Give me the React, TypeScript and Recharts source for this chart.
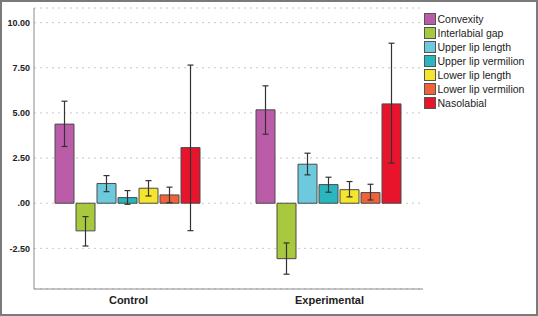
import React from 'react';
import { BarChart, Bar, XAxis, YAxis, CartesianGrid, ErrorBar, Legend } from 'recharts';

const categories = ['Control', 'Experimental'];
const seriesNames = ['Convexity', 'Interlabial gap', 'Upper lip length', 'Upper lip vermilion', 'Lower lip length', 'Lower lip vermilion', 'Nasolabial'];
const seriesColors = ['#BB5CA8', '#A8C83E', '#6CCADC', '#2AB6BE', '#F5E52C', '#F0633A', '#E8142C'];

// mean values [Control, Experimental]
const convexity = [4.38, 5.17];
const interlabialGap = [-1.53, -3.07];
const upperLipLength = [1.09, 2.16];
const upperLipVermilion = [0.31, 1.03];
const lowerLipLength = [0.83, 0.75];
const lowerLipVermilion = [0.46, 0.59];
const nasolabial = [3.08, 5.5];

// error bar lower / upper bounds [Control, Experimental]
const convexityLow = [3.14, 3.82];
const convexityHigh = [5.65, 6.5];
const interlabialLow = [-2.37, -3.93];
const interlabialHigh = [-0.74, -2.2];
const upperLipLengthLow = [0.64, 1.57];
const upperLipLengthHigh = [1.53, 2.77];
const upperLipVermilionLow = [-0.06, 0.61];
const upperLipVermilionHigh = [0.7, 1.44];
const lowerLipLengthLow = [0.4, 0.35];
const lowerLipLengthHigh = [1.25, 1.2];
const lowerLipVermilionLow = [0.03, 0.18];
const lowerLipVermilionHigh = [0.89, 1.05];
const nasolabialLow = [-1.52, 2.22];
const nasolabialHigh = [7.65, 8.86];

const yTicks = [-2.5, 0, 2.5, 5, 7.5, 10];

const seriesValues = [convexity, interlabialGap, upperLipLength, upperLipVermilion, lowerLipLength, lowerLipVermilion, nasolabial];
const seriesLow = [convexityLow, interlabialLow, upperLipLengthLow, upperLipVermilionLow, lowerLipLengthLow, lowerLipVermilionLow, nasolabialLow];
const seriesHigh = [convexityHigh, interlabialHigh, upperLipLengthHigh, upperLipVermilionHigh, lowerLipLengthHigh, lowerLipVermilionHigh, nasolabialHigh];

const data = categories.map((c, i) => {
  const row: any = { name: c };
  seriesValues.forEach((vals, s) => {
    row['s' + s] = vals[i];
    row['e' + s] = [vals[i] - seriesLow[s][i], seriesHigh[s][i] - vals[i]];
  });
  return row;
});

const font = '"Liberation Sans", Arial, sans-serif';

const fmt = (v: number) => {
  const s = v.toFixed(2);
  return s.replace(/^0\./, '.').replace(/^-0\./, '-.');
};

const LegendContent = () => (
  <div style={{ fontFamily: font, fontSize: 10.5, color: '#222' }}>
    {seriesNames.map((n, i) => (
      <div key={n} style={{ display: 'flex', alignItems: 'center', height: 14.05 }}>
        <div style={{ width: 10, height: 10, background: seriesColors[i], border: '1px solid #555', marginRight: 1.5, boxSizing: 'content-box' }} />
        <span style={{ whiteSpace: 'nowrap' }}>{n}</span>
      </div>
    ))}
  </div>
);

export default function App() {
  return (
    <div style={{ position: 'absolute', left: 0, top: 0, width: 538, height: 316, background: '#fff' }}>
      <div style={{ position: 'absolute', left: 0, top: 0, width: 538, height: 316, border: '2px solid #7a7a7a', boxSizing: 'border-box', pointerEvents: 'none', zIndex: 2 }} />
      <BarChart
        width={538}
        height={316}
        data={data}
        margin={{ top: 8, right: 115, bottom: 0, left: 0 }}
        barCategoryGap={27}
        barGap={2}
      >
        <CartesianGrid horizontal vertical={false} stroke="#c8c8c8" strokeDasharray="2 4" />
        <XAxis
          dataKey="name"
          height={27}
          padding={{ left: -6, right: -7 }}
          tickLine={false}
          tickSize={0}
          tickMargin={7}
          axisLine={{ stroke: '#8a8a8a' }}
          tick={{ fontFamily: font, fontSize: 11, fontWeight: 'bold', fill: '#222' }}
        />
        <YAxis
          width={34}
          domain={[-4.75, 10.81]}
          ticks={yTicks}
          allowDataOverflow
          interval={0}
          tickFormatter={fmt}
          tickLine={false}
          tickSize={0}
          tickMargin={4}
          axisLine={{ stroke: '#8a8a8a' }}
          tick={{ fontFamily: font, fontSize: 9, fontWeight: 'bold', fill: '#222' }}
        />
        <Legend
          layout="vertical"
          align="center"
          verticalAlign="middle"
          content={<LegendContent />}
          wrapperStyle={{ position: 'absolute', left: 424, top: 12, width: 112, height: 100 }}
        />
        {seriesNames.map((n, s) => (
          <Bar key={n} dataKey={'s' + s} name={n} fill={seriesColors[s]} stroke="#4a4a4a" strokeWidth={1} isAnimationActive={false}>
            <ErrorBar dataKey={'e' + s} width={3} stroke="#333" strokeWidth={1.2} direction="y" />
          </Bar>
        ))}
      </BarChart>
    </div>
  );
}
